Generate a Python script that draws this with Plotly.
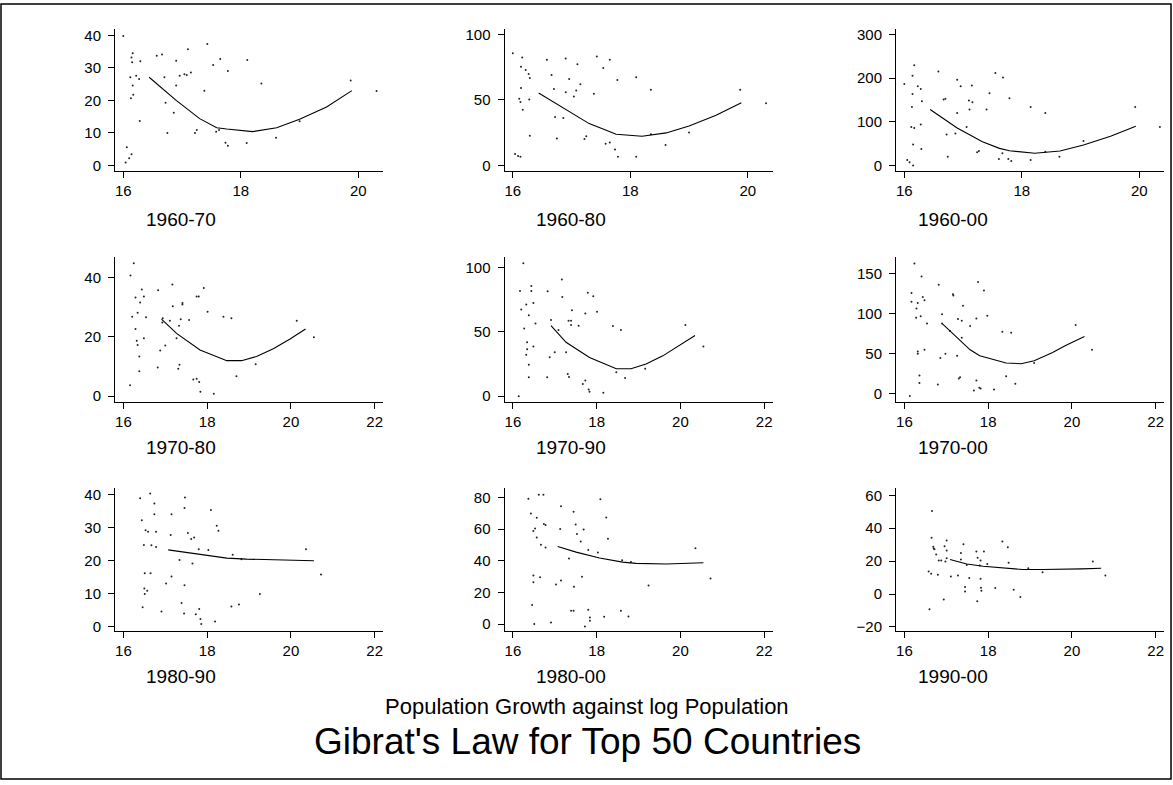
import plotly.graph_objects as go

W, H = 1173, 785

# ---------------- data ----------------
labels = ["1960-70", "1960-80", "1960-00",
          "1970-80", "1970-90", "1970-00",
          "1980-90", "1980-00", "1990-00"]

x_6070 = [16.0,16.06,16.04,16.1,16.14,16.12,16.16,16.17,16.13,16.16,16.14,16.15,16.22,16.27,16.28,16.29,16.57,16.66,16.70,16.72,16.75,16.86,16.9,16.9,16.96,17.04,17.08,17.1,17.15,17.22,17.25,17.38,17.43,17.53,17.58,17.63,17.65,17.74,17.78,17.78,18.1,18.11,18.35,18.6,19.0,19.87,20.31]
y_6070 = [39.8,5.6,0.9,2.2,3.5,27.1,24.6,21.7,20.7,34.5,33.2,31.7,27.6,26.6,13.7,32,33.7,34.1,27.1,19.3,10.0,16.2,32.2,24.6,27.6,28,27.8,35.7,28.6,10.0,10.9,23,37.3,30.9,10.4,10.9,32.7,7.0,29,6.1,6.9,32.4,25.2,8.5,13.6,26.1,22.9]
fx_6070 = [16.44,16.9,17.3,17.59,17.76,18.2,18.61,19.0,19.46,19.89]
fy_6070 = [27.1,20,14.4,11.6,11.2,10.4,11.6,14.2,18,23.0]

x_6080 = [16.0,16.04,16.09,16.13,16.16,16.14,16.22,16.27,16.29,16.14,16.11,16.13,16.17,16.28,16.29,16.58,16.66,16.70,16.72,16.75,16.86,16.9,16.9,16.96,17.04,17.08,17.1,17.15,17.22,17.25,17.38,17.43,17.54,17.58,17.65,17.65,17.74,17.78,17.79,18.1,18.1,18.35,18.35,18.6,19.0,19.87,20.31]
y_6080 = [85.6,8.8,7.3,6.8,82.4,75.3,72.8,69.8,66.8,59.2,50.9,48.4,42.6,50.4,22.7,80.6,69,58.4,37,20.7,36.3,81.6,55.9,66,52.6,57.2,77.3,62,20.2,22.4,54.7,83.1,74.3,16.6,17.6,80.6,12.3,65.2,6.8,6.8,67.3,57.9,23.9,15.6,25.2,57.9,47.6]
fx_6080 = [16.44,16.9,17.3,17.59,17.76,18.2,18.61,19.0,19.46,19.89]
fy_6080 = [55.4,42.8,32,27,23.9,22.4,24.9,30.2,38.3,47.9]

x_6000 = [16.0,16.05,16.09,16.15,16.17,16.14,16.14,16.13,16.12,16.17,16.15,16.23,16.28,16.3,16.28,16.29,16.58,16.67,16.7,16.72,16.74,16.87,16.9,16.9,16.96,17.06,17.1,17.11,17.15,17.16,17.24,17.27,17.4,17.45,17.55,17.61,17.68,17.67,17.77,17.79,17.82,18.15,18.15,18.4,18.4,18.64,19.05,19.93,20.35]
y_6000 = [186.6,12.8,7.6,0,229.6,205.4,164,133.7,88.4,86,48.3,181.3,175.2,147.3,93.7,37.8,215.3,151,152.6,71,20.4,73.3,196.4,120,181.3,88.4,148.8,128.4,183,145,30.2,33.2,128.4,165.4,211.5,15.1,201.7,28,15.1,154,10.6,133.7,12.8,120,31.7,20.4,55.9,133.7,88.4]
fx_6000 = [16.44,16.9,17.33,17.62,17.79,18.22,18.65,19.05,19.51,19.94]
fy_6000 = [128.4,86,54.4,39.3,34,28,33.2,46.8,67.2,89.9]

x_7080 = [16.25,16.17,16.29,16.4,16.44,16.49,16.34,16.21,16.54,16.29,16.32,16.34,16.49,16.38,16.38,16.16,16.83,16.94,16.93,16.88,17.0,16.82,17.11,17.18,17.17,17.27,17.33,17.34,17.31,17.37,17.41,17.41,17.57,17.67,17.75,17.81,17.75,17.8,17.84,17.92,18.01,18.16,18.39,18.58,18.7,19.16,20.14,20.55]
y_7080 = [44.9,40.8,33.3,31.6,36,33.7,28.2,26.8,26.7,22.7,18.7,17.3,19.6,13.4,8.4,3.7,35.8,26.3,24.9,15.4,17.1,9.7,25.5,30.4,37.7,19.6,23.8,10.6,9.3,26,31,31.5,25.7,5.6,5.9,4.8,33.7,33.7,1.5,36.5,28.5,0.8,26.8,26.3,6.7,10.8,25.5,19.9]
fx_7080 = [16.91,17.27,17.83,18.47,18.82,19.18,19.58,19.98,20.35]
fy_7080 = [26,21.2,15.6,12,12,13.4,16,19.3,22.7]

x_7090 = [16.25,16.17,16.44,16.44,16.32,16.49,16.2,16.38,16.54,16.27,16.34,16.34,16.49,16.32,16.38,16.38,16.14,16.83,16.91,16.88,17.0,16.82,17.09,17.18,17.17,17.27,17.33,17.31,17.34,17.39,17.39,17.41,17.57,17.67,17.73,17.73,17.79,17.81,17.83,17.92,18.01,18.16,18.39,18.58,18.47,18.68,19.16,20.12,20.55]
y_7090 = [103.6,82,85.8,82,71.4,72.7,67.5,63.1,56.7,52.8,42,36.6,38.7,32.2,24.5,14.7,0,81.7,59.3,30.4,34.3,14.7,51.5,77.3,91,34.3,58.8,17.3,15,55.4,58.8,67,54.9,9.5,12.1,64.4,80.7,5.2,3.4,77.8,65.7,2.6,54.6,51.5,18.6,14.2,21.4,55.4,38.7]
fx_7090 = [16.91,17.27,17.83,18.47,18.82,19.18,19.58,19.98,20.35]
fy_7090 = [54.9,42,30.2,21.4,21.4,25,31.4,39.4,47.2]

x_7000 = [16.24,16.17,16.17,16.32,16.29,16.28,16.39,16.41,16.44,16.48,16.54,16.32,16.32,16.48,16.36,16.36,16.13,16.82,16.9,16.9,16.86,16.98,16.8,17.09,17.16,17.17,17.28,17.26,17.3,17.33,17.37,17.4,17.37,17.57,17.66,17.72,17.72,17.76,17.79,17.82,17.9,17.98,18.14,18.34,18.55,18.43,18.65,19.1,20.09,20.48]
y_7000 = [163,126,115,113.6,106.6,95,97,146.7,121,117,88,52.9,50,55,23,13.6,-2.9,136.4,99.6,88,44.6,50,11.6,78.5,124.4,123,93.4,47.5,19,20.7,91.3,110,70.2,84.7,4.1,16.5,94.2,139.7,7.4,6.6,129.3,97.5,5.4,77.7,76.4,21.9,12.4,38.4,86,55]
fx_7000 = [16.91,17.09,17.57,17.8,18.43,18.79,19.1,19.54,19.85,20.3]
fy_7000 = [87.5,78.5,55,47.5,38.4,37.6,41.3,51.5,60.5,71.5]

x_8090 = [16.4,16.64,16.74,16.74,16.44,16.53,16.59,16.78,16.49,16.67,16.78,16.51,16.65,16.5,16.57,16.51,16.46,16.91,17.02,17.15,17.13,17.15,17.34,17.47,17.46,17.46,17.39,17.45,17.54,17.62,17.69,17.65,17.73,17.81,17.84,17.86,17.8,18.03,18.09,18.23,18.27,18.19,18.61,18.82,18.58,18.76,19.26,20.36,20.72]
y_8090 = [39,40.4,37.4,34.1,32.3,29.3,28.8,28.8,24.8,24.7,24.2,16.2,16.2,11.6,10.9,9.9,5.9,4.6,13.1,15.2,27.8,34.1,20.2,39.2,36,12.6,7.2,4,28.4,26.6,27.1,19.2,3.8,5.4,2.3,0.8,23.5,23.3,35.4,30.6,29.1,1.6,21.8,20.5,6.1,6.7,9.9,23.5,15.8]
fx_8090 = [17.07,17.67,18.07,18.47,18.94,19.66,20.55]
fy_8090 = [23.3,22.2,21.5,20.8,20.5,20.2,20]

x_8000 = [16.37,16.62,16.73,16.43,16.57,16.74,16.78,16.53,16.49,16.57,16.67,16.78,16.49,16.65,16.49,16.46,16.51,16.91,17.03,17.15,17.13,17.15,17.34,17.45,17.46,17.39,17.45,17.5,17.53,17.62,17.69,17.65,17.72,17.8,17.84,17.84,17.8,18.03,18.09,18.23,18.27,18.18,18.61,18.82,18.58,18.76,19.24,20.36,20.72]
y_8000 = [79.3,81.8,81.8,70,67.2,63.3,62.6,60.5,58.9,54.7,50.1,48.4,30.7,29.6,26.5,12.1,0,1,25,27.6,60.1,74.5,41.5,71,23.6,8.4,8.4,63,57,52.2,59.9,29.9,-1.5,9,4.2,2.1,46.8,45.3,78.9,67.4,53.9,4.6,40.3,39.2,8.4,4.8,24.4,48,28.8]
fx_8000 = [17.07,17.51,18.07,18.62,18.94,19.66,20.55]
fy_8000 = [49.1,45.5,41.8,39.2,38.4,38,38.8]

x_9000 = [16.66,16.65,16.69,16.7,16.72,16.76,16.82,16.88,16.58,16.64,16.8,16.6,16.96,17.01,17.01,17.01,16.98,16.94,17.11,17.28,17.35,17.35,17.41,17.49,17.45,17.45,17.55,17.72,17.75,17.82,17.74,17.8,17.82,17.83,17.84,17.9,17.98,18.17,18.34,18.47,18.49,18.61,18.77,18.96,19.3,20.5,20.8]
y_9000 = [50.5,34.3,28.7,27.7,27.3,24,20.4,20.4,13.7,12.3,11.7,-9.3,29.1,32.5,26.4,21.8,19.8,-3.4,10.7,11.3,25,21,30.2,17.7,4.2,1.6,9.7,25.8,22,20.4,-4.4,17.3,9.3,3.8,2,25.8,18.3,3.6,32,28.4,19,2.6,-1.8,15.7,13.3,19.8,11.3]
fx_9000 = [17.09,17.49,17.88,18.35,18.83,19.3,19.77,20.24,20.7]
fy_9000 = [21,18.3,16.9,15.9,14.9,14.9,14.9,15.3,15.7]

y_ticks = [[0, 10, 20, 30, 40], [0, 50, 100], [0, 100, 200, 300],
           [0, 20, 40], [0, 50, 100], [0, 50, 100, 150],
           [0, 10, 20, 30, 40], [0, 20, 40, 60, 80], [-20, 0, 20, 40, 60]]
x_ticks_row1 = [16, 18, 20]
x_ticks_rows23 = [16, 18, 20, 22]

title_text = "Gibrat's Law for Top 50 Countries"
subtitle_text = "Population Growth against log Population"

panels = [
    (x_6070, y_6070, fx_6070, fy_6070),
    (x_6080, y_6080, fx_6080, fy_6080),
    (x_6000, y_6000, fx_6000, fy_6000),
    (x_7080, y_7080, fx_7080, fy_7080),
    (x_7090, y_7090, fx_7090, fy_7090),
    (x_7000, y_7000, fx_7000, fy_7000),
    (x_8090, y_8090, fx_8090, fy_8090),
    (x_8000, y_8000, fx_8000, fy_8000),
    (x_9000, y_9000, fx_9000, fy_9000),
]

# ---------------- layout geometry (pixels) ----------------
col_left = [115, 504.5, 896]
col_width = 268
row_tb = [(26, 170), (256, 403), (489, 634)]
x_ranges = [[15.859, 20.42], [15.80, 22.2], [15.80, 22.2]]
y_ranges = [[-1.83, 42.0], [-4.5, 104.3], [-13.6, 313],
            [-2.1, 47.1], [-4.9, 108.7], [-10.8, 171.4],
            [-1.42, 42.2], [-4.6, 86.3], [-22.7, 64.7]]
label_pos_x = [181, 571, 953]
label_pos_y = [218, 449, 680]

FONT = "Liberation Sans, Arial, Helvetica, sans-serif"

def px(xp):
    return xp / W

def py(yp):
    return 1 - yp / H

fig = go.Figure()
layout = dict(
    width=W, height=H,
    margin=dict(l=0, r=0, t=0, b=0),
    paper_bgcolor="white", plot_bgcolor="white",
    showlegend=False,
    font=dict(family=FONT, color="black"),
)

annotations = []
for i, (xs, ys, fxs, fys) in enumerate(panels):
    r, c = divmod(i, 3)
    n = i + 1
    xa = "x" if n == 1 else f"x{n}"
    ya = "y" if n == 1 else f"y{n}"
    fig.add_trace(go.Scatter(x=xs, y=ys, mode="markers", xaxis=xa, yaxis=ya,
                             marker=dict(size=2, color="#222222"),
                             hoverinfo="x+y"))
    fig.add_trace(go.Scatter(x=fxs, y=fys, mode="lines", xaxis=xa, yaxis=ya,
                             line=dict(color="black", width=1.1)))
    top, bot = row_tb[r]
    left = col_left[c]
    common = dict(showline=True, linecolor="black", linewidth=1,
                  ticks="outside", ticklen=6, tickcolor="black", tickwidth=1,
                  showgrid=False, zeroline=False,
                  tickfont=dict(size=15, family=FONT, color="black"))
    layout["xaxis" if n == 1 else f"xaxis{n}"] = dict(
        domain=[px(left), px(left + col_width)],
        anchor=ya, range=x_ranges[r],
        tickvals=x_ticks_row1 if r == 0 else x_ticks_rows23,
        **common)
    layout["yaxis" if n == 1 else f"yaxis{n}"] = dict(
        domain=[py(bot), py(top)],
        anchor=xa, range=y_ranges[i],
        tickvals=y_ticks[i], ticklabelstandoff=4,
        **common)
    annotations.append(dict(text=labels[i], x=px(label_pos_x[c]), y=py(label_pos_y[r]),
                            xref="paper", yref="paper", showarrow=False,
                            xanchor="center", yanchor="middle",
                            font=dict(size=19, family=FONT, color="black")))

annotations.append(dict(text=subtitle_text, x=px(587), y=py(710), xref="paper", yref="paper",
                        showarrow=False, xanchor="center", yanchor="middle",
                        font=dict(size=22, family=FONT, color="black")))
annotations.append(dict(text=title_text, x=px(587), y=py(745), xref="paper", yref="paper",
                        showarrow=False, xanchor="center", yanchor="middle",
                        font=dict(size=37, family=FONT, color="black")))
layout["annotations"] = annotations
layout["shapes"] = [dict(type="rect", xref="paper", yref="paper",
                         x0=px(1), x1=px(1171), y0=py(783), y1=py(1),
                         line=dict(color="black", width=1.5), fillcolor="rgba(0,0,0,0)")]

fig.update_layout(**layout)
fig.write_html("out.html")
